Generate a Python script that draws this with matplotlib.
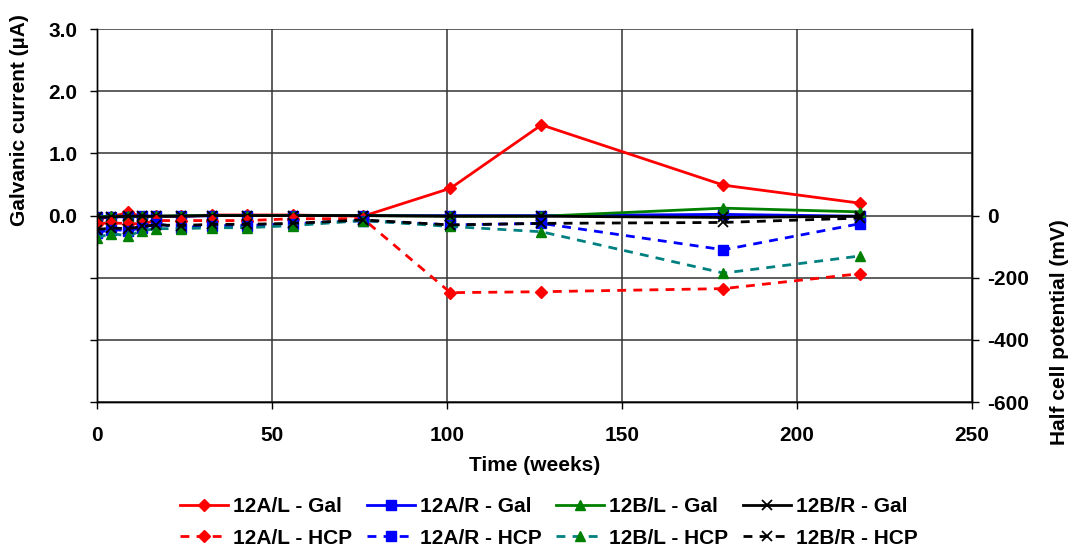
import numpy as np
import matplotlib.pyplot as plt

plt.rcParams['font.family'] = ['Liberation Sans', 'DejaVu Sans']
plt.rcParams['font.weight'] = 'bold'
plt.rcParams['axes.unicode_minus'] = False

# time of each reading (weeks)
weeks = [0, 4, 9, 13, 17, 24, 33, 43, 56, 76, 101, 127, 179, 218]

# galvanic current (uA)
gal_al = [-0.05, -0.02, 0.05, -0.02, -0.01, -0.01, 0.01, 0.01, 0.01, -0.01, 0.44, 1.46, 0.49, 0.20]
gal_ar = [-0.03, -0.02, -0.02, -0.01, -0.01, -0.01, 0.00, 0.00, 0.00, 0.00, 0.00, 0.00, 0.02, -0.01]
gal_bl = [-0.02, -0.01, -0.01, -0.01, -0.01, 0.00, 0.00, 0.00, 0.00, 0.00, -0.01, -0.01, 0.12, 0.06]
gal_br = [-0.03, -0.02, -0.01, -0.01, -0.01, -0.01, 0.00, 0.00, 0.00, 0.00, -0.01, -0.01, -0.03, -0.01]

# half cell potential (mV)
hcp_al = [-26, -23, -26, -26, -16, -16, -16, -16, -10, -10, -248, -245, -235, -187]
hcp_ar = [-55, -45, -48, -39, -26, -39, -32, -32, -26, -16, -30, -25, -110, -26]
hcp_bl = [-71, -58, -65, -48, -42, -42, -39, -39, -32, -16, -35, -52, -185, -130]
hcp_br = [-45, -40, -42, -35, -30, -32, -28, -28, -25, -14, -30, -25, -22, -8]

fig = plt.figure(figsize=(10.74, 5.51), dpi=100)
ax = fig.add_axes([0.0903, 0.2704, 0.8147, 0.6766])
ax2 = ax.twinx()

ax.set_xlim(0, 250)
ax.set_ylim(-3, 3)
ax2.set_ylim(-600, 600)

ax.set_xticks([0, 50, 100, 150, 200, 250])
ax.set_yticks([-3, -2, -1, 0, 1, 2, 3])
ax.set_yticklabels(['', '', '', '0.0', '1.0', '2.0', '3.0'])
ax2.set_yticks([-600, -400, -200, 0])
ax.grid(True, color='#333333', linewidth=1.1)
ax.set_axisbelow(True)

for a in (ax, ax2):
    a.tick_params(labelsize=15, width=1, length=5, direction='out')
    for s in a.spines.values():
        s.set_linewidth(1)
ax.tick_params(axis='x', pad=12)
ax.tick_params(axis='y', pad=9)
ax2.tick_params(axis='y', pad=6)
ax.spines['top'].set_visible(False)
ax2.spines['top'].set_visible(False)

lw = 2
dash = (0, (3.2, 2.6))
h = []
h += ax.plot(weeks, gal_al, color='#FF0000', marker='D', ms=6.5, lw=lw, label='12A/L - Gal')
h += ax2.plot(weeks, hcp_al, color='#FF0000', marker='D', ms=6.5, lw=lw, ls=dash, label='12A/L - HCP')
h += ax.plot(weeks, gal_ar, color='#0000FF', marker='s', ms=7, lw=lw, label='12A/R - Gal')
h += ax2.plot(weeks, hcp_ar, color='#0000FF', marker='s', ms=7, lw=lw, ls=dash, label='12A/R - HCP')
h += ax.plot(weeks, gal_bl, color='#008000', marker='^', ms=7.5, lw=lw, label='12B/L - Gal')
h += ax2.plot(weeks, hcp_bl, color='#008080', marker='^', ms=7.5, mfc='#008000', mec='#008000',
              lw=lw, ls=dash, label='12B/L - HCP')
h += ax.plot(weeks, gal_br, color='#000000', marker='x', ms=7, mew=1.3, lw=lw, label='12B/R - Gal')
h += ax2.plot(weeks, hcp_br, color='#000000', marker='x', ms=7, mew=1.3, lw=lw, ls=dash,
              label='12B/R - HCP')

ax.set_xlabel('Time (weeks)', fontsize=15, fontweight='bold', labelpad=8)
ax.set_ylabel('Galvanic current (µA)', fontsize=15, fontweight='bold')
ax2.set_ylabel('Half cell potential (mV)', fontsize=15, fontweight='bold')
# left title sits beside the 0..3 range, right title beside the 0..-600 range
ax.yaxis.set_label_coords(-0.078, 0.756)
ax2.yaxis.set_label_coords(1.089, 0.188)

fig.legend(handles=h, loc='lower center', bbox_to_anchor=(0.511, -0.028), ncol=4,
           frameon=False, fontsize=15, columnspacing=0.72, handlelength=2.3,
           handletextpad=0.24, labelspacing=0.6)

fig.savefig('out.png', dpi=100)
